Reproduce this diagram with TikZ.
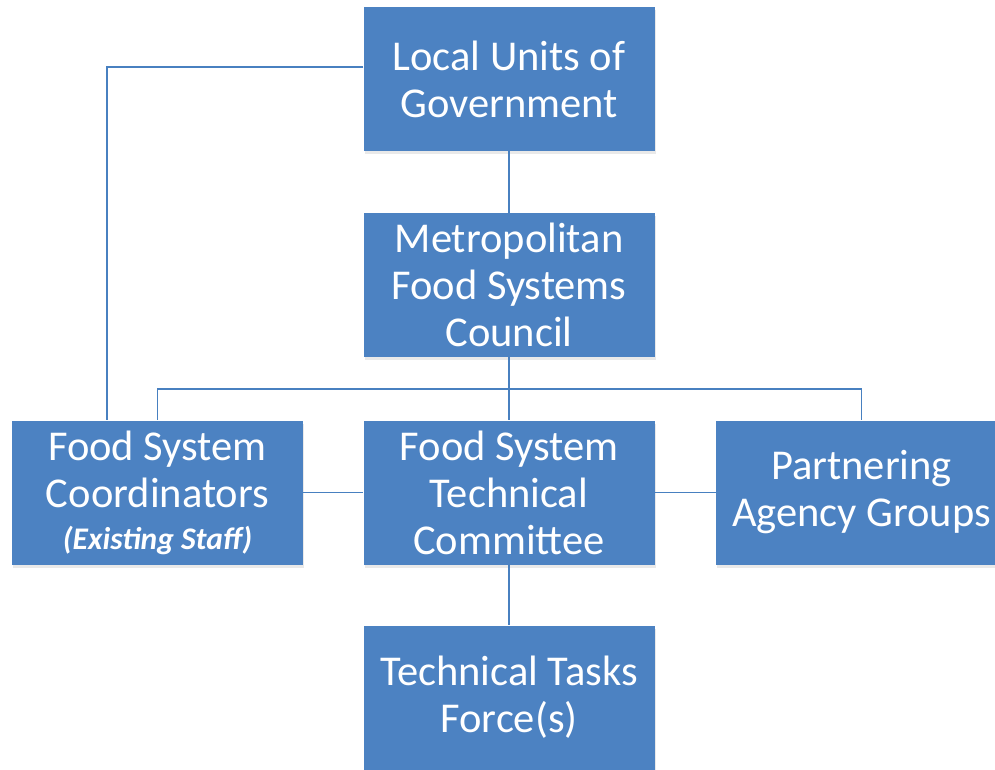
\documentclass[tikz,border=0pt]{standalone}
\usepackage{fontspec}
\setmainfont{Carlito}
\usetikzlibrary{calc}
\definecolor{boxblue}{RGB}{76,130,194}
\definecolor{lineblue}{RGB}{72,128,192}
\tikzset{
  orgbox/.style={fill=boxblue, draw=none, minimum width=291pt, minimum height=144pt,
    text=white, align=center, inner sep=0pt,
    font=\fontsize{42.5}{47}\selectfont},
  shade/.style={fill=black!25, draw=none, minimum width=291pt, minimum height=144pt, inner sep=0pt},
  conn/.style={draw=lineblue, line width=1.3pt}
}
\begin{document}
\begin{tikzpicture}[x=1pt,y=-1pt]
\useasboundingbox (0,0) rectangle (995,769);
\clip (0,0) rectangle (995,769);
% shadows
\foreach \cx/\cy in {509/79, 509/285, 157.5/492.5, 509/492.5, 861.5/492.5, 509/697.5}
  \node[shade, opacity=0.35] at (\cx+1,\cy+3) {};
\node[orgbox] (loc) at (509,79) {Local Units of\\Government};
\node[orgbox] (met) at (509,285) {Metropolitan\\Food Systems\\Council};
\node[orgbox] (coo) at (157.5,492.5) {Food System\\Coordinators\\[-5pt]{\fontsize{31.5}{36}\selectfont\bfseries\itshape (Existing Staff)}};
\node[orgbox] (tec) at (509,492.5) {Food System\\Technical\\Committee};
\node[orgbox] (par) at (861.5,492.5) {Partnering\\Agency Groups};
\node[orgbox] (tsk) at (509,697.5) {Technical Tasks\\Force(s)};
\coordinate (locw) at ($(loc.west)+(0,-12)$);
\coordinate (bus) at (509,389);
\draw[conn] (loc.south) -- (met.north);
\draw[conn] (locw) -| (coo.north -| 107,0);
\draw[conn] (met.south) -- (bus);
\draw[conn] (bus) -| (coo.north);
\draw[conn] (bus) -| (par.north);
\draw[conn] (bus) -- (tec.north);
\draw[conn] (coo.east) -- (tec.west);
\draw[conn] (tec.east) -- (par.west);
\draw[conn] (tec.south) -- (tsk.north);
\end{tikzpicture}
\end{document}
